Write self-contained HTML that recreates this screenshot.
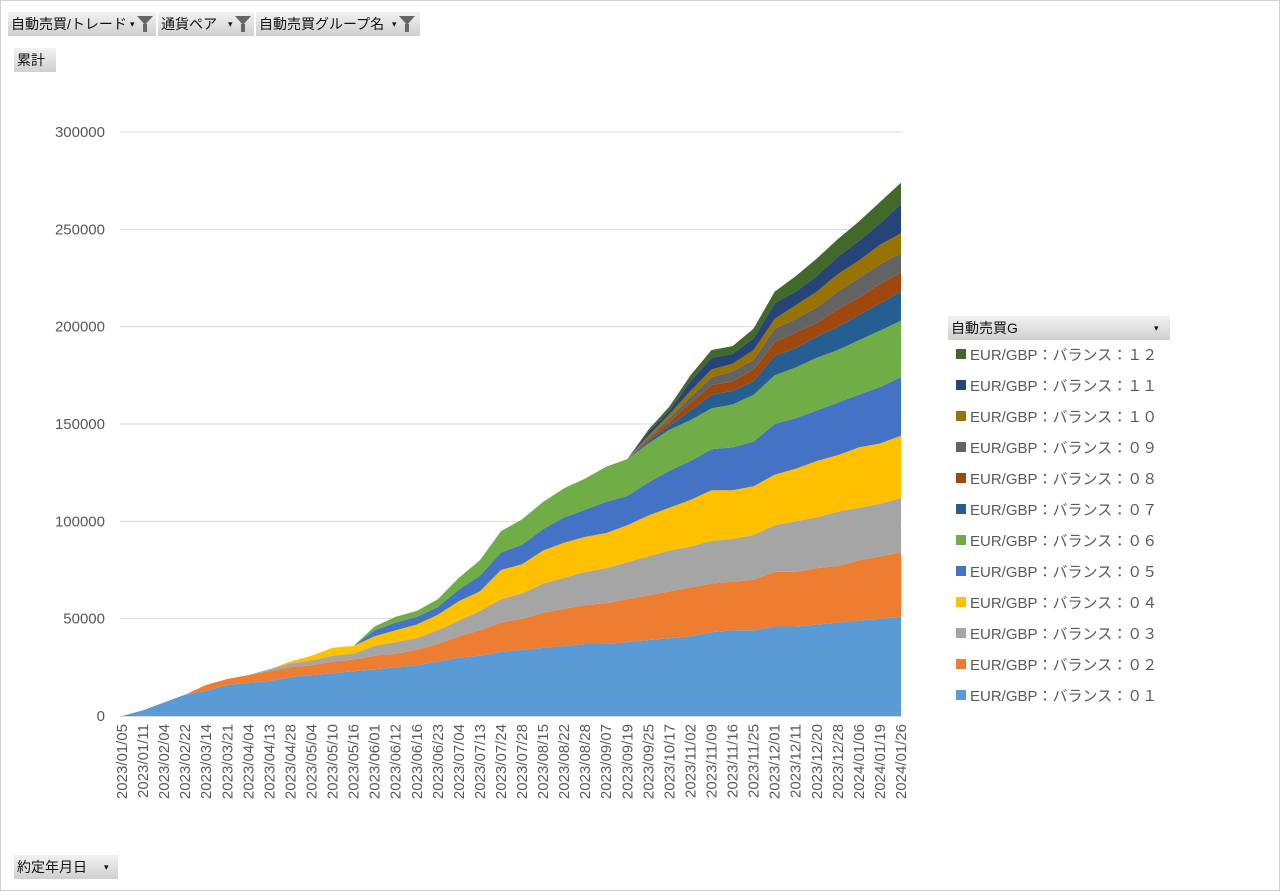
<!DOCTYPE html>
<html><head><meta charset="utf-8">
<style>
html,body{margin:0;padding:0;background:#fff;}
body{width:1280px;height:891px;position:relative;overflow:hidden;font-family:"Liberation Sans","Noto Sans CJK JP",sans-serif;}
.frame{position:absolute;left:0;top:0;width:1278px;height:889px;border:1px solid #d0d0d0;}
.btn{position:absolute;height:24px;background:linear-gradient(#f2f2f2,#cfcfcf);font-size:14px;line-height:24px;color:#111;padding-left:3px;box-sizing:border-box;white-space:nowrap;}
.btn .dd{position:absolute;font-size:9px;top:0;}
.funnel{position:absolute;top:4px;width:0;height:0;border-left:8px solid transparent;border-right:8px solid transparent;border-top:9px solid #666;}
.funnel:after{content:"";position:absolute;left:-2px;top:-1px;width:4px;height:8px;background:#666;}
</style></head>
<body>
<div class="frame"></div>
<div class="btn" style="left:8px;top:12px;width:148px">自動売買/トレード<span class="dd" style="left:122px">▾</span><span class="funnel" style="left:129px"></span></div>
<div class="btn" style="left:158px;top:12px;width:96px">通貨ペア<span class="dd" style="left:70px">▾</span><span class="funnel" style="left:77px"></span></div>
<div class="btn" style="left:256px;top:12px;width:164px">自動売買グループ名<span class="dd" style="left:136px">▾</span><span class="funnel" style="left:143px"></span></div>
<div class="btn" style="left:14px;top:48px;width:42px">累計</div>
<div class="btn" style="left:14px;top:855px;width:104px">約定年月日<span class="dd" style="left:90px">▾</span></div>
<div class="btn" style="left:948px;top:316px;width:222px">自動売買G<span class="dd" style="left:206px">▾</span></div>

<svg id="chart" width="1280" height="891" style="position:absolute;left:0;top:0"></svg>

<script>
const categories=["2023/01/05","2023/01/11","2023/02/04","2023/02/22","2023/03/14","2023/03/21","2023/04/04","2023/04/13","2023/04/28","2023/05/04","2023/05/10","2023/05/16","2023/06/01","2023/06/12","2023/06/16","2023/06/23","2023/07/04","2023/07/13","2023/07/24","2023/07/28","2023/08/15","2023/08/22","2023/08/28","2023/09/07","2023/09/19","2023/09/25","2023/10/17","2023/11/02","2023/11/09","2023/11/16","2023/11/25","2023/12/01","2023/12/11","2023/12/20","2023/12/28","2024/01/06","2024/01/19","2024/01/26"];
const yTicks=[0,50000,100000,150000,200000,250000,300000];
const seriesNames=["EUR/GBP：バランス：０１","EUR/GBP：バランス：０２","EUR/GBP：バランス：０３","EUR/GBP：バランス：０４","EUR/GBP：バランス：０５","EUR/GBP：バランス：０６","EUR/GBP：バランス：０７","EUR/GBP：バランス：０８","EUR/GBP：バランス：０９","EUR/GBP：バランス：１０","EUR/GBP：バランス：１１","EUR/GBP：バランス：１２"];
const colors=["#5B9BD5","#ED7D31","#A5A5A5","#FFC000","#4472C4","#70AD47","#255E91","#9E480E","#636363","#997300","#264478","#43682B"];
const s01=[0,3000,7000,11000,13000,16000,17000,18000,20000,21000,22000,23000,24000,25000,26000,28000,30000,31000,33000,34000,35000,36000,37000,37000,38000,39000,40000,41000,43000,44000,44000,46000,46000,47000,48000,49000,50000,51000];
const s02=[0,0,0,0,3000,3000,4000,5000,5000,5000,6000,6000,7000,7000,8000,9000,11000,13000,15000,16000,18000,19000,20000,21000,22000,23000,24000,25000,25000,25000,26000,28000,28000,29000,29000,31000,32000,33000];
const s03=[0,0,0,0,0,0,0,1000,2000,2500,3000,3000,5000,6000,6000,7000,8000,10000,12000,13000,15000,16000,17000,18000,19000,20000,21000,21000,22000,22000,23000,24000,26000,26000,28000,27000,27000,28000];
const s04=[0,0,0,0,0,0,0,0,1000,2500,4000,4000,5000,6000,7000,8000,10000,10000,15000,15000,17000,18000,18000,18000,19000,21000,22000,24000,26000,25000,25000,26000,27000,29000,29000,31000,31000,32000];
const s05=[0,0,0,0,0,0,0,0,0,0,0,0,3000,4000,4000,4000,6000,8000,9000,10000,11000,13000,14000,16000,15000,17000,19000,20000,21000,22000,23000,26000,26000,26000,27000,27000,29000,30000];
const s06=[0,0,0,0,0,0,0,0,0,0,0,0,2000,3000,3000,4000,6000,8000,11000,13000,14000,15000,16000,18000,19000,20000,21000,21000,21000,22000,24000,25000,26000,27000,27000,28000,29000,29000];
const s07=[0,0,0,0,0,0,0,0,0,0,0,0,0,0,0,0,0,0,0,0,0,0,0,0,0,1000,2000,5000,7000,7000,7000,10000,10000,11000,12000,13000,14000,15000];
const s08=[0,0,0,0,0,0,0,0,0,0,0,0,0,0,0,0,0,0,0,0,0,0,0,0,0,1000,2000,4000,5000,5000,6000,7000,8000,7000,9000,9000,10000,10000];
const s09=[0,0,0,0,0,0,0,0,0,0,0,0,0,0,0,0,0,0,0,0,0,0,0,0,0,1000,2000,3000,4000,5000,5000,7000,7000,8000,9000,10000,10000,10000];
const s10=[0,0,0,0,0,0,0,0,0,0,0,0,0,0,0,0,0,0,0,0,0,0,0,0,0,1000,2000,3000,4000,4000,5000,5000,7000,8000,9000,9000,10000,10000];
const s11=[0,0,0,0,0,0,0,0,0,0,0,0,0,0,0,0,0,0,0,0,0,0,0,0,0,2000,2000,5000,6000,5000,6000,8000,7000,8000,9000,10000,11000,15000];
const s12=[0,0,0,0,0,0,0,0,0,0,0,0,0,0,0,0,0,0,0,0,0,0,0,0,0,1000,2000,3000,4000,4000,5000,6000,8000,9000,9000,10000,11000,11000];
const series=[s01,s02,s03,s04,s05,s06,s07,s08,s09,s10,s11,s12];

const NS="http://www.w3.org/2000/svg";
const svg=document.getElementById('chart');
const X0=122,X1=901,Y0=716,Y1=132,YMAX=300000;
function xPos(i){return X0+(X1-X0)*i/(categories.length-1);}
function yPos(v){return Y0-(Y0-Y1)*v/YMAX;}
function mk(t,a){const e=document.createElementNS(NS,t);for(const k in a)e.setAttribute(k,a[k]);svg.appendChild(e);return e;}

yTicks.forEach(function(t){
  if(t>0){const g=mk('line',{x1:120,x2:902,y1:yPos(t),y2:yPos(t),stroke:'#d9d9d9','stroke-width':1});
  
  }
  const l=mk('text',{x:105,y:yPos(t)+5,'text-anchor':'end','font-size':15,fill:'#595959','font-family':'Liberation Sans, sans-serif'});
  l.textContent=t;
  
  
});

let base=categories.map(function(){return 0;});
series.forEach(function(s,k){
  const top=base.map(function(b,i){return b+s[i];});
  let d='';
  top.forEach(function(v,i){d+=(i?'L':'M')+xPos(i).toFixed(1)+','+yPos(v).toFixed(1);});
  for(let i=base.length-1;i>=0;i--)d+='L'+xPos(i).toFixed(1)+','+yPos(base[i]).toFixed(1);
  const p=mk('path',{d:d+'Z',fill:colors[k]});
  
  
  base=top;
});

const ax=mk('line',{x1:120,x2:902,y1:Y0+0.5,y2:Y0+0.5,stroke:'#d9d9d9','stroke-width':1});



categories.forEach(function(c,i){
  const x=xPos(i)+5;
  const t=mk('text',{x:0,y:0,transform:'translate('+x+',724) rotate(-90)','text-anchor':'end','font-size':15,fill:'#595959','font-family':'Liberation Sans, sans-serif'});
  t.textContent=c;
  
  
});

for(let k=11;k>=0;k--){
  const y=354+(11-k)*31;
  const r=mk('rect',{x:956,y:y-5,width:10,height:10,fill:colors[k]});
  
  
  const t=mk('text',{x:970,y:y+6,'font-size':15,fill:'#595959','font-family':'Liberation Sans, Noto Sans CJK JP, sans-serif'});
  t.textContent=seriesNames[k];
  
  
}
</script>
</body></html>
